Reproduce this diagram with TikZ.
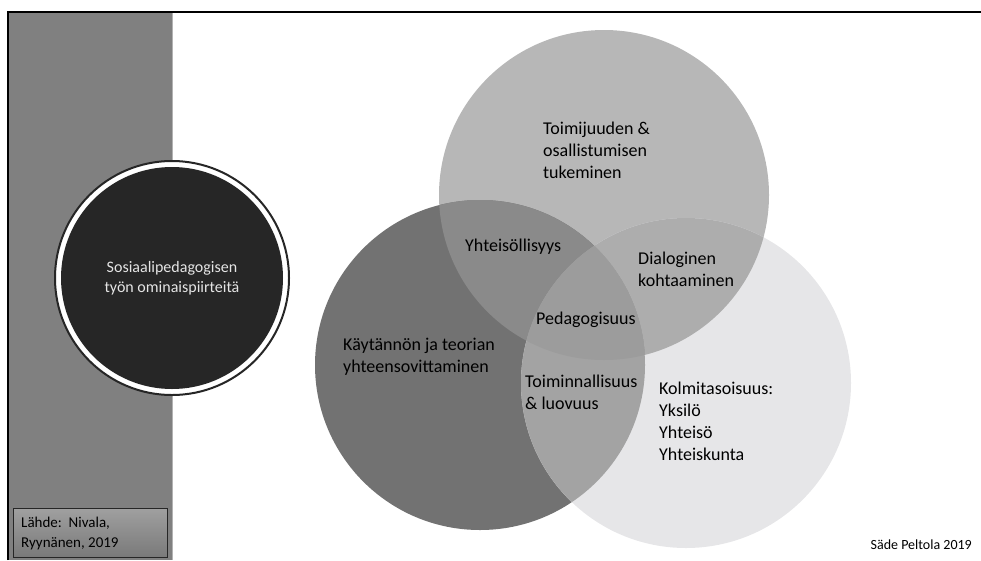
\documentclass[tikz,border=0pt]{standalone}
\usepackage{fontspec}
\setmainfont{Carlito}
\usepackage{tikz}

\definecolor{band}{HTML}{808080}
\definecolor{dark}{HTML}{262626}
\definecolor{ctop}{HTML}{B7B7B7}
\definecolor{cleft}{HTML}{727272}
\definecolor{cright}{HTML}{E6E6E8}
\definecolor{ctl}{HTML}{8A8A8A}
\definecolor{ctr}{HTML}{ADADAD}
\definecolor{clr}{HTML}{A3A3A3}
\definecolor{ctlr}{HTML}{9C9C9C}

\begin{document}
\begin{tikzpicture}[x=1pt,y=-1pt,
  venn/.style = {circle, minimum size=330pt, inner sep=0pt},
  lbl/.style = {anchor=west, align=left, inner sep=0pt, font=\fontsize{18}{22}\selectfont}]
\useasboundingbox (0,0) rectangle (981,560);
\fill[band] (9,13) rectangle (172,560);
\draw[gray!60!white] (172,13) -- (172,560);
\draw[line width=2pt] (8,560) -- (8,12) -- (981,12);

% venn
\node[venn, fill=ctop] (1) at (604,195) {};
\node[venn, fill=cleft] (2) at (480,365) {};
\node[venn, fill=cright] (3) at (686,383) {};
\begin{scope}
\clip (1.center) circle[radius=165];
\fill[ctr] (3.center) circle[radius=165];
\fill[ctl] (2.center) circle[radius=165];
\clip (2.center) circle[radius=165];
\fill[ctlr] (3.center) circle[radius=165];
\end{scope}
\begin{scope}
\clip (2.center) circle[radius=165];
\clip (3.center) circle[radius=165];
\fill[clr] (0,0) rectangle (981,560);
\fill[ctlr] (1.center) circle[radius=165];
\end{scope}

\node[lbl] (a) at (543,150) {Toimijuuden \&\\osallistumisen\\tukeminen};
\node[lbl] (b) at (465,247) {Yhteisöllisyys};
\node[lbl] (c) at (638,269) {Dialoginen\\kohtaaminen};
\node[lbl] (d) at (536,320) {Pedagogisuus};
\node[lbl] (e) at (343,357) {Käytännön ja teorian\\yhteensovittaminen};
\node[lbl] (f) at (525,392) {Toiminnallisuus\\\& luovuus};
\node[lbl] (g) at (659,421) {Kolmitasoisuus:\\Yksilö\\Yhteisö\\Yhteiskunta};

% centre circle
\node[circle, draw=dark, line width=2pt, fill=white, minimum size=234pt] (0) at (172,278) {};
\node[circle, fill=dark, minimum size=222pt, align=center, text=white!90!black,
  font=\fontsize{16}{20}\selectfont] at (0) {Sosiaalipedagogisen\\työn ominaispiirteitä};

\node[draw=dark, line width=1.2pt, top color=gray!75, bottom color=gray!95!black,
  anchor=north west, minimum width=154pt, minimum height=49pt] (src) at (13,508) {};
\node[lbl, font=\fontsize{15}{20}\selectfont] (srctxt) at ([xshift=8pt]src.west) {Lähde:\ \ Nivala,\\Ryynänen,\ 2019};
\node[anchor=east, inner sep=0pt, font=\fontsize{14}{16}\selectfont] (sign) at (972,545) {Säde Peltola 2019};
\end{tikzpicture}
\end{document}
